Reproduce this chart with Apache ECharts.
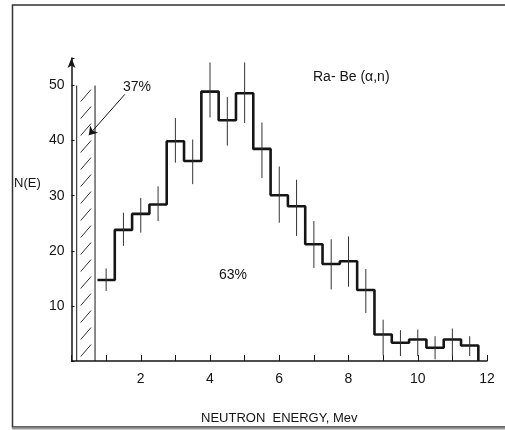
<!DOCTYPE html>
<html>
<head>
<meta charset="utf-8">
<script src="https://cdn.jsdelivr.net/npm/echarts@6/dist/echarts.min.js"></script>
<style>html,body{margin:0;padding:0;background:#fff}#c{width:505px;height:430px}</style>
</head>
<body>
<div id="c"></div>
<script>
// Bin centres (MeV), bin width 0.5
var binCenters = [1.0,1.5,2.0,2.5,3.0,3.5,4.0,4.5,5.0,5.5,6.0,6.5,7.0,7.5,8.0,8.5,9.0,9.5,10.0,10.5,11.0,11.5];
var counts     = [14.7,23.8,26.7,28.4,39.9,36.3,48.9,43.7,48.6,38.5,30.1,28.1,21.2,17.6,18.1,12.9,4.8,3.3,3.9,2.4,3.9,2.8];
var errLow     = [12.7,20.9,23.3,25.4,36.0,32.1,44.2,39.1,43.2,33.2,25.1,22.7,16.9,13.0,13.5,8.7,1.0,0.9,0.9,0.3,0.9,0.9];
var errHigh    = [16.8,26.9,29.6,31.7,44.1,40.2,54.2,47.9,54.2,43.3,35.3,32.9,25.4,22.1,22.6,16.7,7.5,5.6,5.7,4.5,5.9,4.5];
var binWidth = 0.5;
// Low-energy (shaded) band, MeV, and its height
var shadedBand = [0.15, 0.68, 50];
var xTickLabels = ['2','4','6','8','10','12'];
var yTickLabels = ['10','20','30','40','50'];

var stepData = [];
for (var i = 0; i < binCenters.length; i++) stepData.push([binCenters[i] - binWidth/2, counts[i]]);
var lastEdge = binCenters[binCenters.length-1] + binWidth/2;
stepData.push([lastEdge, counts[counts.length-1]]);
stepData.push([lastEdge, 0]);

var errData = binCenters.map(function(c, i){ return [c, errLow[i], errHigh[i]]; });

var FONT = 'Liberation Sans';
var INK = '#151515';

var chart = echarts.init(document.getElementById('c'), null, {renderer:'canvas'});
chart.setOption({
  animation: false,
  backgroundColor: '#fff',
  grid: {left: 71.5, right: 18, top: 58, bottom: 65, containLabel: false},
  xAxis: {
    type: 'value', min: 0, max: 12, interval: 1,
    axisLine: {show: true, lineStyle: {color: INK, width: 1.5}},
    axisTick: {show: true, inside: true, length: 6, lineStyle: {color: INK, width: 1}},
    splitLine: {show: false},
    axisLabel: {
      color: INK, fontFamily: FONT, fontSize: 14, margin: 11,
      formatter: function(v){ var s = String(v); return xTickLabels.indexOf(s) >= 0 ? s : ''; }
    },
    name: 'NEUTRON  ENERGY, Mev', nameLocation: 'middle', nameGap: 51,
    nameTextStyle: {color: INK, fontFamily: FONT, fontSize: 13}
  },
  yAxis: {
    type: 'value', min: 0, max: 55, interval: 10,
    axisLine: {show: true, symbol: ['none','arrow'], symbolSize: [6, 10], lineStyle: {color: INK, width: 1.5}},
    axisTick: {show: true, inside: true, length: 3, lineStyle: {color: INK, width: 1}},
    splitLine: {show: false},
    axisLabel: {
      color: INK, fontFamily: FONT, fontSize: 14, margin: 7,
      formatter: function(v){ var s = String(v); return yTickLabels.indexOf(s) >= 0 ? s : ''; }
    }
  },
  graphic: [
    {type: 'rect', shape: {x: 12.5, y: 5, width: 500, height: 422}, style: {fill: 'none', stroke: '#333', lineWidth: 1.5}, silent: true},
    {type: 'line', shape: {x1: 12, y1: 428.5, x2: 505, y2: 428.5}, style: {stroke: '#999', lineWidth: 2}, silent: true},
    {type: 'text', left: 14, top: 177, style: {text: 'N(E)', font: '13px "Liberation Sans"', fill: INK}},
    {type: 'text', left: 123, top: 80, style: {text: '37%', font: '14px "Liberation Sans"', fill: INK}},
    {type: 'text', left: 313, top: 70, style: {text: 'Ra- Be (\u03b1,n)', font: '14px "Liberation Sans"', fill: INK}},
    {type: 'text', left: 219, top: 268, style: {text: '63%', font: '14px "Liberation Sans"', fill: INK}}
  ],
  series: [
    {
      type: 'custom', name: 'band', silent: true, z: 2,
      data: [shadedBand],
      renderItem: function(params, api){
        var p0 = api.coord([api.value(0), 0]);
        var p1 = api.coord([api.value(1), api.value(2)]);
        var children = [
          {type:'line', shape:{x1:p0[0], y1:p0[1], x2:p0[0], y2:p1[1]}, style:{stroke:INK, lineWidth:1}},
          {type:'line', shape:{x1:p1[0], y1:p0[1], x2:p1[0], y2:p1[1]}, style:{stroke:INK, lineWidth:1}}
        ];
        var xa = p0[0] + 4, xb = p1[0] - 4;
        for (var y = p1[1] + 16; y < p0[1] - 2; y += 17) {
          children.push({type:'line', shape:{x1:xa, y1:y, x2:xb, y2:y-12}, style:{stroke:'#333', lineWidth:1}});
        }
        return {type:'group', children: children};
      }
    },
    {
      type: 'line', name: 'N(E)', step: 'end', data: stepData, showSymbol: false, z: 3,
      lineStyle: {color: INK, width: 2.6},
      markLine: {
        silent: true, symbol: ['none','arrow'], symbolSize: 8,
        lineStyle: {color: INK, width: 1, type: 'solid'}, label: {show: false},
        data: [[{coord: [1.54, 48.4]}, {coord: [0.5, 41.0]}]]
      }
    },
    {
      type: 'custom', name: 'err', silent: true, z: 4,
      data: errData,
      renderItem: function(params, api){
        var a = api.coord([api.value(0), api.value(1)]);
        var b = api.coord([api.value(0), api.value(2)]);
        return {type:'line', shape:{x1:a[0], y1:a[1], x2:b[0], y2:b[1]}, style:{stroke:'#333', lineWidth:1}};
      }
    }
  ]
});
</script>
</body>
</html>
